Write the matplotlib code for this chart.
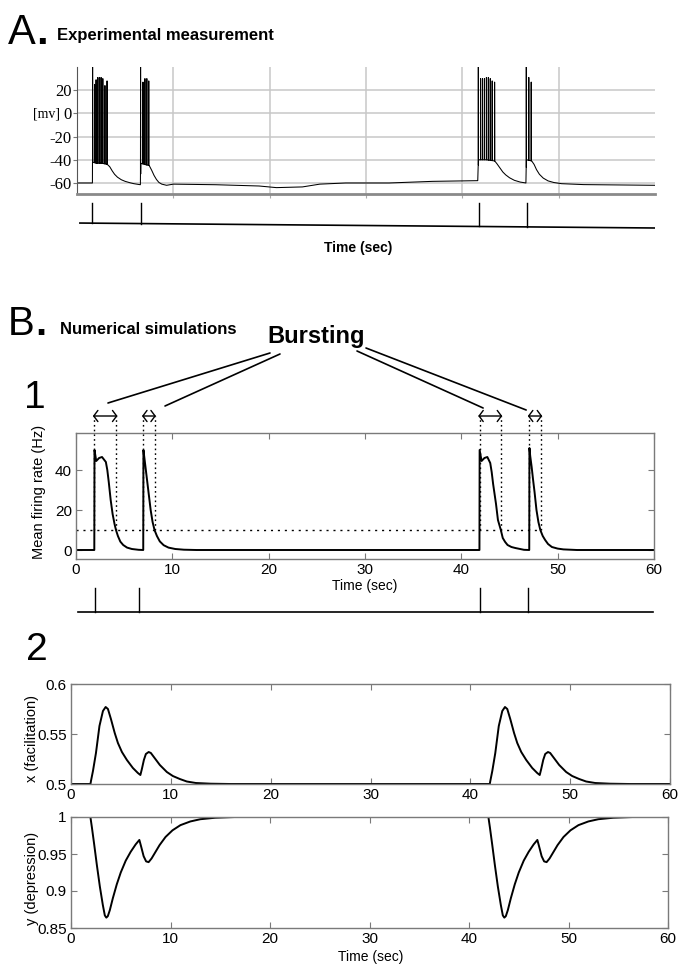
import numpy as np
import matplotlib
matplotlib.use("Agg")
import matplotlib.pyplot as plt

W, H = 678, 966

# ---------------- Panel A: experimental membrane potential ----------------
a_env_t = [0, 1.6, 1.62, 2.0, 2.6, 3.15, 3.4, 3.65, 3.9, 4.2, 4.6, 5.0, 5.5, 5.9, 6.4,
           6.58, 6.62, 7.0, 7.5, 7.75, 8.0, 8.25, 8.5, 8.8, 9.3, 10, 14.4, 18.9, 20.7,
           23.4, 25.2, 27.9, 32.4, 36.9, 41.6,
           41.68, 42.5, 43.35, 43.6, 43.9, 44.2, 44.5, 44.9, 45.4, 46.0, 46.6,
           46.66, 47.2, 47.45, 47.7, 48.0, 48.4, 48.9, 49.5, 50.3, 52.6, 60]
a_env_v = [-60, -60, -42, -43, -43, -44, -46, -49.5, -52.5, -55, -57.2, -58.6, -59.8,
           -60.6, -61.3, -61.5, -43, -44, -45, -49, -53.5, -57, -59.5, -61, -62, -61,
           -61.5, -62.6, -64, -63.4, -61, -60, -60, -58.6, -58,
           -40, -40, -41, -43.5, -47, -50.5, -53, -55.5, -57.7, -59.2, -60,
           -40, -41, -44, -48.5, -52.5, -55.8, -58.2, -59.6, -60.6, -61.4, -62]
a_spike_t = [1.62, 1.82, 1.98, 2.15, 2.32, 2.5, 2.68, 2.9, 3.12,
             6.6, 6.85, 7.05, 7.25, 7.45,
             41.66, 41.9, 42.1, 42.3, 42.5, 42.7, 42.9, 43.1, 43.35,
             46.64, 46.9, 47.15]
a_spike_peak = [40, 25, 29, 31, 31, 31, 30, 24, 28,
                40, 27, 30, 30, 28,
                40, 30, 30, 30, 31, 31, 30, 28, 27,
                40, 31, 27]
a_yticks = [20, 0, -20, -40, -60]
a_stim_t = [1.6, 6.6, 41.7, 46.7]
a_stim_base_t = [0.3, 60]
a_stim_base_v = [0.28, 0.125]

# ---------------- Panel B1: mean firing rate ----------------
rate_t = [0, 1.9, 1.92, 2.1, 2.4, 2.7, 3.1, 3.25, 3.4, 3.6, 3.8, 4.0, 4.15, 4.35, 4.6,
          4.9, 5.3, 5.8, 6.5,
          6.98, 7.0, 7.1, 7.25, 7.4, 7.55, 7.75, 7.95, 8.15, 8.4, 8.7, 9.1, 9.6, 10.3,
          11.2, 12.5,
          41.88, 41.9, 42.1, 42.4, 42.7, 43.0, 43.15, 43.3, 43.45, 43.6, 43.8, 43.95,
          44.1, 44.3, 44.55, 44.8, 45.2, 45.6, 46.5,
          47.05, 47.07, 47.15, 47.3, 47.45, 47.6, 47.8, 48.0, 48.2, 48.45, 48.7, 49.0,
          49.4, 50.0, 50.6, 52, 60]
rate_v = [0, 0, 50, 44.5, 46, 46.5, 44, 40, 34, 25, 18, 13, 10, 7, 4.2,
          2.5, 1.2, 0.5, 0.1,
          0, 50, 46, 40, 34, 28, 20, 14, 10, 7, 4.3, 2.4, 1.2, 0.5,
          0.15, 0,
          0, 50, 44.5, 46, 46.5, 43.5, 39, 33, 28, 23, 15, 12.5,
          10, 6, 4, 2.5, 1.5, 1, 0.1,
          0, 51, 47, 41.5, 35, 29, 20, 14, 10, 7, 5, 3,
          1.5, 0.7, 0.3, 0, 0]
burst_start = [1.9, 7.0, 41.9, 47.05]
burst_end = [4.16, 8.15, 44.1, 48.25]
threshold = 10
b_stim_t = [2.0, 6.5, 41.9, 46.9]
b_stim_base_t = [0.2, 59.9]
b_stim_base_v = [0.1, 0.1]

# ---------------- Panel B2: facilitation and depression ----------------
fac_t = [0, 1.95, 2.0, 2.2, 2.5, 2.85, 3.2, 3.47, 3.7, 4.0, 4.38, 4.7, 5.1, 5.6, 6.2,
         6.7, 6.95, 7.1, 7.3, 7.5, 7.78, 8.0, 8.3, 8.9, 9.6, 10.2, 10.9, 11.6, 12.5,
         14, 16,
         41.95, 42.0, 42.2, 42.5, 42.85, 43.2, 43.47, 43.7, 44.0, 44.38, 44.7, 45.1,
         45.6, 46.2, 46.7, 46.95, 47.1, 47.3, 47.5, 47.78, 48.0, 48.3, 48.9, 49.6,
         50.2, 50.9, 51.6, 52.5, 54, 56, 60]
fac_v = [0.5, 0.5, 0.503, 0.513, 0.531, 0.558, 0.573, 0.577, 0.575, 0.565, 0.551,
         0.541, 0.532, 0.524, 0.516, 0.511, 0.509, 0.515, 0.524, 0.53, 0.532, 0.531,
         0.527, 0.519, 0.512, 0.508, 0.505, 0.5025, 0.501, 0.5003, 0.5,
         0.5, 0.503, 0.513, 0.531, 0.558, 0.573, 0.577, 0.575, 0.565, 0.551,
         0.541, 0.532, 0.524, 0.516, 0.511, 0.509, 0.515, 0.524, 0.53, 0.532, 0.531,
         0.527, 0.519, 0.512, 0.508, 0.505, 0.5025, 0.501, 0.5003, 0.5, 0.5]
dep_t = [0, 1.95, 2.1, 2.33, 2.6, 2.9, 3.2, 3.4, 3.55, 3.7, 3.9, 4.2, 4.6, 5.0, 5.5,
         6.0, 6.5, 6.87, 7.05, 7.3, 7.55, 7.8, 8.1, 8.5, 8.9, 9.5, 10.2, 11, 12, 13,
         14.5, 16.5,
         41.95, 42.1, 42.33, 42.6, 42.9, 43.2, 43.4, 43.55, 43.7, 43.9, 44.2, 44.6,
         45.0, 45.5, 46.0, 46.5, 46.87, 47.05, 47.3, 47.55, 47.8, 48.1, 48.5, 48.9,
         49.5, 50.2, 51, 52, 53, 54.5, 56.5, 60]
dep_v = [1.0, 1.0, 0.986, 0.963, 0.935, 0.906, 0.881, 0.867, 0.864, 0.866, 0.874,
         0.89, 0.909, 0.925, 0.941, 0.953, 0.963, 0.969, 0.96, 0.947, 0.94, 0.939,
         0.944, 0.953, 0.962, 0.973, 0.982, 0.989, 0.994, 0.997, 0.999, 1.0,
         1.0, 0.986, 0.963, 0.935, 0.906, 0.881, 0.867, 0.864, 0.866, 0.874,
         0.89, 0.909, 0.925, 0.941, 0.953, 0.963, 0.969, 0.96, 0.947, 0.94, 0.939,
         0.944, 0.953, 0.962, 0.973, 0.982, 0.989, 0.994, 0.997, 0.999, 1.0, 1.0]

time_ticks = [0, 10, 20, 30, 40, 50, 60]

# ---------------------------------------------------------------------------
SANS = ["Liberation Sans", "DejaVu Sans"]
SERIF = ["Liberation Serif", "DejaVu Serif"]
SPINE = "#7a7a7a"

fig = plt.figure(figsize=(W / 100, H / 100), dpi=100)


def px_axes(l, t, r, b):
    return fig.add_axes([l / W, 1 - b / H, (r - l) / W, (b - t) / H])


def ftext(x, y, s, **kw):
    return fig.text(x / W, 1 - y / H, s, **kw)


def matlab_style(ax, yticks, ylim):
    ax.set_xlim(0, 60)
    ax.set_ylim(*ylim)
    ax.set_xticks(time_ticks)
    ax.set_yticks(yticks)
    for s in ax.spines.values():
        s.set_color(SPINE)
        s.set_linewidth(1.0)
    ax.tick_params(direction="in", top=True, right=True, length=4, width=0.8,
                   color=SPINE, labelsize=11, pad=3)
    for lab in ax.get_xticklabels() + ax.get_yticklabels():
        lab.set_family(SANS)


# ---- Panel A ----
axA = px_axes(77, 67, 655, 194)
pts = list(zip(a_env_t, a_env_v))
for ts, pk in zip(a_spike_t, a_spike_peak):
    base = float(np.interp(ts, a_env_t, a_env_v))
    pts += [(ts - 0.012, base), (ts, pk), (ts + 0.012, base)]
pts.sort(key=lambda p: p[0])
axA.plot([p[0] for p in pts], [p[1] for p in pts], color="k", lw=0.75)
axA.set_xlim(0, 60)
axA.set_ylim(-69.5, 40)
axA.set_xticks([10, 20, 30, 40, 50])
axA.set_yticks(a_yticks)
axA.set_yticklabels([str(v) for v in a_yticks], family=SERIF, fontsize=12)
axA.set_xticklabels([])
axA.grid(True, color="#c8c8c8", lw=1.1)
axA.set_axisbelow(True)
for k in ["top", "right"]:
    axA.spines[k].set_visible(False)
axA.spines["left"].set_color("#555555")
axA.spines["bottom"].set_color("#8a8a8a")
axA.spines["bottom"].set_linewidth(2.0)
axA.tick_params(axis="y", length=3, color="#777777", pad=1)
axA.tick_params(axis="x", length=3, color="#aaaaaa", direction="out")
ftext(46, 114, "[mv]", family=SERIF, fontsize=10, ha="center", va="center")

axAs = px_axes(77, 200, 655, 232)
axAs.set_xlim(0, 60)
axAs.set_ylim(0, 1)
axAs.axis("off")
axAs.plot(a_stim_base_t, a_stim_base_v, color="k", lw=1.2)
for ts in a_stim_t:
    b = float(np.interp(ts, a_stim_base_t, a_stim_base_v))
    axAs.plot([ts, ts], [b, 0.906], color="k", lw=1.0)
ftext(358, 248, "Time (sec)", family=SANS, fontsize=10, fontweight="bold",
      ha="center", va="center")

ftext(8, 44, "A", family=SANS, fontsize=30, ha="left", va="baseline")
ftext(36, 44, ".", family=SANS, fontsize=30, fontweight="bold", ha="left", va="baseline")
ftext(57, 40, "Experimental measurement", family=SANS, fontsize=12,
      fontweight="bold", ha="left", va="baseline")

# ---- Panel B1 ----
axB1 = px_axes(76, 433, 654, 559)
axB1.plot(rate_t, rate_v, color="k", lw=1.4)
matlab_style(axB1, [0, 20, 40], (-4.5, 58.5))
axB1.plot([0, burst_end[-1]], [threshold, threshold], color="k", lw=1.0,
          ls=(0, (1.5, 3.5)))
arrow_y = 67
for t0, t1 in zip(burst_start, burst_end):
    for tt in (t0, t1):
        axB1.plot([tt, tt], [threshold, arrow_y], color="k", lw=1.0,
                  ls=(0, (1.2, 2.2)), clip_on=False)
    axB1.annotate("", xy=(t1 + 0.15, arrow_y), xytext=(t0 - 0.15, arrow_y),
                  arrowprops=dict(arrowstyle="<->,head_length=0.3,head_width=0.4",
                                  lw=1.0, color="k", mutation_scale=10,
                                  shrinkA=0, shrinkB=0),
                  annotation_clip=False)
ftext(39, 492, "Mean firing rate (Hz)", family=SANS, fontsize=10.5, rotation=90,
      ha="center", va="center")
ftext(365, 586, "Time (sec)", family=SANS, fontsize=10, ha="center", va="center")

# "Bursting" label with connector lines
ftext(316, 343, "Bursting", family=SANS, fontsize=17, fontweight="bold",
      ha="center", va="baseline")
line_starts_px = [(270, 353), (280, 354), (357, 351), (366, 348)]
line_end_t = [3.32, 9.24, 42.26, 46.73]
line_end_y = [73.5, 72, 71, 70]
for (sx, sy), et, ey in zip(line_starts_px, line_end_t, line_end_y):
    axB1.annotate("", xy=(et, ey), xycoords="data",
                  xytext=(sx / W, 1 - sy / H), textcoords="figure fraction",
                  arrowprops=dict(arrowstyle="-", lw=1.2, color="k",
                                  shrinkA=0, shrinkB=0),
                  annotation_clip=False)

axBs = px_axes(76, 585, 654, 615)
axBs.set_xlim(0, 60)
axBs.set_ylim(0, 1)
axBs.axis("off")
axBs.plot(b_stim_base_t, b_stim_base_v, color="k", lw=1.2)
for ts in b_stim_t:
    axBs.plot([ts, ts], [0.1, 0.9], color="k", lw=1.0)

ftext(8, 335, "B", family=SANS, fontsize=29, ha="left", va="baseline")
ftext(35, 335, ".", family=SANS, fontsize=29, fontweight="bold", ha="left", va="baseline")
ftext(60, 334, "Numerical simulations", family=SANS, fontsize=12,
      fontweight="bold", ha="left", va="baseline")
ftext(24, 408, "1", family=SANS, fontsize=28, ha="left", va="baseline")
ftext(26, 660, "2", family=SANS, fontsize=28, ha="left", va="baseline")

# ---- Panel B2 ----
axX = px_axes(71, 684, 670, 784)
axX.plot(fac_t, fac_v, color="k", lw=1.4)
matlab_style(axX, [0.5, 0.55, 0.6], (0.5, 0.6))
axX.set_yticklabels(["0.5", "0.55", "0.6"], family=SANS, fontsize=11)
ftext(32, 738, "x (facilitation)", family=SANS, fontsize=10.5, rotation=90,
      ha="center", va="center")

axY = px_axes(71, 817, 668, 928)
axY.plot(dep_t, dep_v, color="k", lw=1.4)
matlab_style(axY, [0.85, 0.9, 0.95, 1.0], (0.85, 1.0))
axY.set_yticklabels(["0.85", "0.9", "0.95", "1"], family=SANS, fontsize=11)
ftext(32, 878, "y (depression)", family=SANS, fontsize=10.5, rotation=90,
      ha="center", va="center")
ftext(371, 957, "Time (sec)", family=SANS, fontsize=10, ha="center", va="center")

fig.savefig("out.png", dpi=100, facecolor="white")
